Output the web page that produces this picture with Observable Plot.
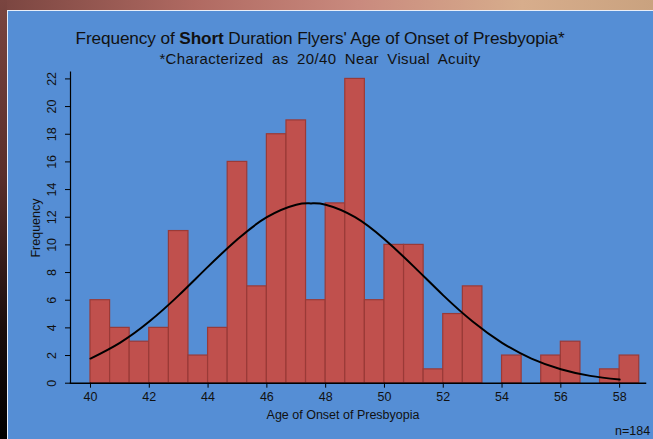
<!DOCTYPE html>
<html>
<head>
<meta charset="utf-8">
<script src="https://cdn.jsdelivr.net/npm/d3@7"></script>
<script src="https://cdn.jsdelivr.net/npm/@observablehq/plot@0.6"></script>
<style>
  html, body { margin: 0; padding: 0; }
  body { width: 653px; height: 439px; overflow: hidden; position: relative;
         font-family: "Liberation Sans", Arial, sans-serif;
         background: linear-gradient(90deg, #7a4540 0%, #b06a62 30%, #c98a7e 55%, #d7ad8c 80%, #c9a27f 100%); }
  #leftstrip { position: absolute; left: 0; top: 0; width: 7px; height: 439px;
         background: linear-gradient(180deg, #7a4540 0%, #5a2f2b 40%, #1a0d0c 75%, #000 100%); }
  #panel { position: absolute; left: 7px; top: 10px; width: 646px; height: 429px;
           background: #558ed5; border-top: 1px solid #e8eef8; border-left: 1px solid #e8eef8; box-sizing: border-box; }
  #chart { position: absolute; left: 0; top: 0; }
  .t { position: absolute; color: #111; white-space: nowrap; }
  #title { left: 0; width: 640px; top: 28px; text-align: center; font-size: 17.2px; letter-spacing: -0.1px; }
  #subtitle { left: 0; width: 640px; top: 50px; text-align: center; font-size: 15px; letter-spacing: 0.35px; word-spacing: 4px; }
  #xlabel { left: 343px; top: 408px; transform: translateX(-50%); font-size: 12.5px; }
  #ylabel { left: 36px; top: 228px; transform: translate(-50%, -50%) rotate(-90deg); font-size: 12.5px; }
  #nlabel { left: 615px; top: 424px; font-size: 12.5px; }
</style>
</head>
<body>
<div id="leftstrip"></div>
<div id="panel"></div>
<div id="chart"></div>
<div class="t" id="title">Frequency of <b>Short</b> Duration Flyers' Age of Onset of Presbyopia*</div>
<div class="t" id="subtitle">*Characterized as 20/40 Near Visual Acuity</div>
<div class="t" id="xlabel">Age of Onset of Presbyopia</div>
<div class="t" id="ylabel">Frequency</div>
<div class="t" id="nlabel">n=184</div>
<script>
// Histogram bin edges (age, years) and counts
const binEdges = [40, 40.667, 41.333, 42, 42.667, 43.333, 44, 44.667, 45.333, 46, 46.667, 47.333, 48, 48.667,
                  49.333, 50, 50.667, 51.333, 52, 52.667, 53.333, 54, 54.667, 55.333, 56, 56.667, 57.333, 58, 58.667];
const binCounts = [6, 4, 3, 4, 11, 2, 4, 16, 7, 18, 19, 6, 13, 22, 6, 10, 10, 1, 5, 7, 0, 2, 0, 2, 3, 0, 1, 2];

// Fitted normal curve
const curveAge = [40, 41, 42, 43, 44, 45, 46, 47, 47.5, 48, 49, 50, 51, 52, 53, 54, 55, 56, 57, 58];
const curveFreq = [1.78, 2.92, 4.46, 6.35, 8.43, 10.4, 12.0, 12.9, 13.0, 12.9, 12.0, 10.4, 8.43, 6.35, 4.46, 2.92, 1.78, 1.01, 0.53, 0.26];

const xTicks = [40, 42, 44, 46, 48, 50, 52, 54, 56, 58];
const yTicks = [0, 2, 4, 6, 8, 10, 12, 14, 16, 18, 20, 22];

const bins = binCounts.map((c, i) => ({x1: binEdges[i], x2: binEdges[i + 1], count: c})).filter(d => d.count > 0);
const curve = curveAge.map((a, i) => ({age: a, freq: curveFreq[i]}));

const chart = Plot.plot({
  width: 653,
  height: 439,
  marginLeft: 70,
  marginRight: 8,
  marginTop: 71.5,
  marginBottom: 56.3,
  style: {background: "transparent", fontFamily: "Liberation Sans, Arial, sans-serif", fontSize: "12px", color: "#111"},
  x: {domain: [39.32, 58.88], axis: null},
  y: {domain: [0, 22.5], axis: null},
  marks: [
    Plot.rectY(bins, {x1: "x1", x2: "x2", y: "count", fill: "#c0504d", stroke: "#9a3a37", strokeWidth: 1.2}),
    Plot.line(curve, {x: "age", y: "freq", curve: "natural", stroke: "#000", strokeWidth: 2}),
    Plot.frame({anchor: "left", stroke: "#000", strokeWidth: 1.2}),
    Plot.frame({anchor: "bottom", stroke: "#000", strokeWidth: 1.5}),
    Plot.axisX({ticks: xTicks, tickSize: 5, tickPadding: 4, fontSize: 12.5, stroke: "#000", fill: "#111", label: null, tickFormat: d => d}),
    Plot.axisY({ticks: yTicks, tickSize: 5, tickPadding: 10, tickRotate: -90, fontSize: 12.5, stroke: "#000", fill: "#111", label: null, tickFormat: d => d})
  ]
});
document.getElementById("chart").appendChild(chart);
</script>
</body>
</html>
